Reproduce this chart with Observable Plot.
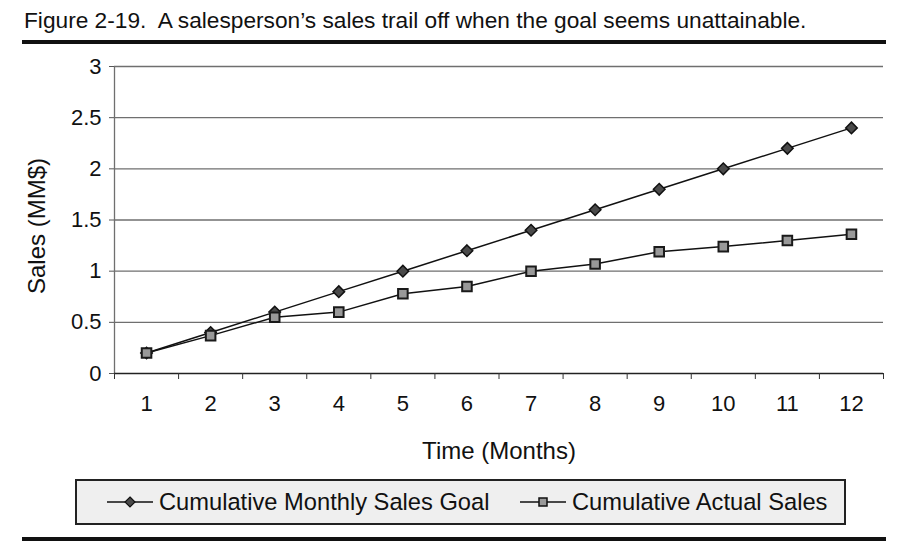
<!DOCTYPE html>
<html>
<head>
<meta charset="utf-8">
<script src="https://cdn.jsdelivr.net/npm/d3@7"></script>
<script src="https://cdn.jsdelivr.net/npm/@observablehq/plot@0.6"></script>
<style>
  body { margin: 0; background: #fff; font-family: "Liberation Sans", Arial, sans-serif; }
  #wrap { position: relative; width: 907px; height: 553px; overflow: hidden; }
  #title { position: absolute; left: 24px; top: 7px; font-size: 22.7px; color: #111; white-space: pre; }
  .rule { position: absolute; left: 22px; width: 864px; height: 4px; background: #111; }
  #chart { position: absolute; left: 0; top: 44px; }
  #legend { position: absolute; left: 75px; top: 479px; width: 767px; height: 42px; background: #efefef; border: 2px solid #222; }
  .item { position: absolute; top: 0; height: 42px; display: flex; align-items: center; font-size: 23.7px; color: #111; }
  .item svg { margin-right: 6px; }
</style>
</head>
<body>
<div id="wrap">
  <div id="title"></div>
  <div class="rule" style="top:40px"></div>
  <div id="chart"></div>
  <div id="legend"></div>
  <div class="rule" style="top:537px"></div>
</div>
<script>
const titleText = "Figure 2-19.  A salesperson\u2019s sales trail off when the goal seems unattainable.";
const xLabel = "Time (Months)";
const yLabel = "Sales (MM$)";
const months = [1, 2, 3, 4, 5, 6, 7, 8, 9, 10, 11, 12];
const goalSales = [0.2, 0.4, 0.6, 0.8, 1.0, 1.2, 1.4, 1.6, 1.8, 2.0, 2.2, 2.4];
const actualSales = [0.2, 0.37, 0.55, 0.6, 0.78, 0.85, 1.0, 1.07, 1.19, 1.24, 1.3, 1.36];
const yTicks = [0, 0.5, 1, 1.5, 2, 2.5, 3];
const seriesNames = ["Cumulative Monthly Sales Goal", "Cumulative Actual Sales"];

document.getElementById("title").textContent = titleText;

const goal = months.map((m, i) => ({month: m, value: goalSales[i], series: seriesNames[0]}));
const actual = months.map((m, i) => ({month: m, value: actualSales[i], series: seriesNames[1]}));
const bounds = [months[0] - 0.5, ...months.map(m => m + 0.5)];
const gridTicks = yTicks.filter(v => v > 0);

const font = "Liberation Sans, Arial, sans-serif";

const chart = Plot.plot({
  width: 907,
  height: 420,
  marginTop: 22,
  marginBottom: 91,
  marginLeft: 114,
  marginRight: 24,
  style: {fontFamily: font, fontSize: "22px", color: "#111", background: "transparent"},
  x: {type: "linear", domain: [bounds[0], bounds[bounds.length - 1]]},
  y: {domain: [0, 3]},
  marks: [
    Plot.ruleY(gridTicks, {stroke: "#6f6f6f", strokeWidth: 1.3}),
    Plot.ruleX([bounds[0]], {stroke: "#6f6f6f", strokeWidth: 1.3}),
    Plot.ruleY([0], {stroke: "#222", strokeWidth: 1.3}),
    Plot.axisY(yTicks, {tickSize: 5, tickPadding: 8, stroke: "#555", label: null, fontSize: 22, fill: "#111", tickFormat: d => String(d)}),
    Plot.axisX(months, {tickSize: 0, tickPadding: 22, label: null, fontSize: 22, fill: "#111", tickFormat: d => String(d)}),
    Plot.axisX(bounds, {tickSize: 6, tickFormat: () => "", label: null, stroke: "#333"}),
    Plot.text([xLabel], {frameAnchor: "bottom", dy: 78, fontSize: 24, lineAnchor: "middle", textAnchor: "middle", fill: "#111"}),
    Plot.text([yLabel], {frameAnchor: "left", dx: -77, dy: 6, rotate: -90, fontSize: 24, lineAnchor: "middle", textAnchor: "middle", fill: "#111"}),
    Plot.line(goal, {x: "month", y: "value", stroke: "#111", strokeWidth: 1.5}),
    Plot.line(actual, {x: "month", y: "value", stroke: "#111", strokeWidth: 1.5}),
    Plot.dot(goal, {x: "month", y: "value", symbol: "diamond2", r: 5.2, fill: "#4a4a4a", stroke: "#111", strokeWidth: 1.5}),
    Plot.dot(actual, {x: "month", y: "value", symbol: "square", r: 5.4, fill: "#999", stroke: "#1a1a1a", strokeWidth: 2})
  ]
});
document.getElementById("chart").appendChild(chart);

// legend
const legend = document.getElementById("legend");
const swatches = [
  {left: 30, svg: '<svg width="46" height="14"><line x1="0" y1="7" x2="46" y2="7" stroke="#111" stroke-width="1.5"/><path d="M23 2 L28 7 L23 12 L18 7 Z" fill="#4a4a4a" stroke="#111" stroke-width="1.2"/></svg>'},
  {left: 443, svg: '<svg width="46" height="14"><line x1="0" y1="7" x2="46" y2="7" stroke="#111" stroke-width="1.5"/><rect x="19" y="3" width="8" height="8" fill="#999" stroke="#111" stroke-width="1.5"/></svg>'}
];
seriesNames.forEach((name, i) => {
  const d = document.createElement("div");
  d.className = "item";
  d.style.left = swatches[i].left + "px";
  d.innerHTML = swatches[i].svg;
  const s = document.createElement("span");
  s.textContent = name;
  d.appendChild(s);
  legend.appendChild(d);
});
</script>
</body>
</html>
